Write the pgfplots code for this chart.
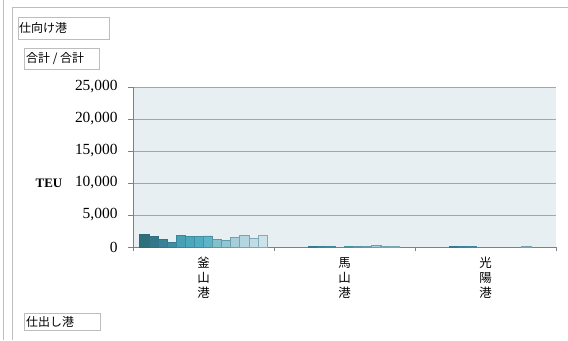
\documentclass[border=0pt]{standalone}
\usepackage{pgfplots}
\pgfplotsset{compat=1.18}
\usepackage{fontspec}
\setmainfont{Liberation Serif}
\newfontfamily\jp{Noto Sans CJK JP}

\definecolor{c0}{HTML}{2A6676}
\definecolor{s1}{HTML}{2E6F7E}
\definecolor{s2}{HTML}{33788A}
\definecolor{s3}{HTML}{3A8296}
\definecolor{s4}{HTML}{3F8DA0}
\definecolor{s5}{HTML}{47A0B5}
\definecolor{s6}{HTML}{4BA7BB}
\definecolor{s7}{HTML}{50AEC3}
\definecolor{s8}{HTML}{5FB5C8}
\definecolor{s9}{HTML}{84C0CE}
\definecolor{s10}{HTML}{92C6D3}
\definecolor{s11}{HTML}{A6CFDB}
\definecolor{s12}{HTML}{B4D6E0}
\definecolor{s13}{HTML}{C0DCE5}
\definecolor{s14}{HTML}{CCE3EA}
\definecolor{bgc}{HTML}{E7EFF3}
\definecolor{gridc}{HTML}{A6A6A6}
\definecolor{boxc}{HTML}{BDBDBD}

\pgfplotsset{bb/.style={fill=#1, draw=#1!55!c0, line width=0.8bp}}

\begin{document}
\begin{tikzpicture}[x=1bp,y=1bp]
\path[use as bounding box] (0,0) rectangle (568,340);
\fill[white] (0,0) rectangle (568,340);
% outer frames
\draw[boxc, line width=1bp] (3,0) -- (3,340);
\draw[boxc, line width=1bp] (12,0) -- (12,332) -- (568,332);
% field buttons
\draw[boxc, line width=0.8bp] (18,301) rectangle (109,323);
\node[anchor=west, inner sep=0pt, font=\jp\fontsize{12}{12}\selectfont] at (19,312) {仕向け港};
\draw[boxc, line width=0.8bp] (24,271) rectangle (99,292);
\node[anchor=west, inner sep=0pt, font=\jp\fontsize{12}{12}\selectfont] at (26,281.5) {合計 / 合計};
\draw[boxc, line width=0.8bp] (24,10) rectangle (100,27);
\node[anchor=west, inner sep=0pt, font=\jp\fontsize{12}{12}\selectfont] at (26,18.5) {仕出し港};

\begin{axis}[
  at={(133bp,93bp)}, anchor=south west,
  scale only axis, width=423bp, height=160bp,
  ybar, bar width=0.0645,
  xmin=-0.5, xmax=2.5, ymin=0, ymax=25000,
  axis background/.style={fill=bgc},
  axis x line=bottom, axis y line=left,
  axis line style={gray, line width=0.8bp, -},
  xtick={0,1,2},
  xticklabels={{釜\\山\\港},{馬\\山\\港},{光\\陽\\港}},
  x tick label style={font=\jp\fontsize{12.5}{15}\selectfont, align=center, anchor=north, yshift=-2bp},
  major x tick style={draw=none},
  minor xtick={-0.5,0.5,1.5,2.5},
  minor x tick style={gray, line width=0.8bp},
  minor tick length=4bp,
  ytick={0,5000,...,25000},
  scaled y ticks=false,
  y tick label style={font=\fontsize{15.5}{15.5}\selectfont, xshift=-7bp, /pgf/number format/1000 sep={,}, /pgf/number format/assume math mode=true},
  major y tick style={gray, line width=0.8bp},
  major tick length=5bp,
  tick align=outside,
  ymajorgrids, grid style={gridc, line width=1bp},
  clip=false,
]
\addplot[bb=s1,  bar shift=-0.419] coordinates {(0,1900)};
\addplot[bb=s2,  bar shift=-0.355] coordinates {(0,1600)};
\addplot[bb=s3,  bar shift=-0.290] coordinates {(0,1250)};
\addplot[bb=s4,  bar shift=-0.226] coordinates {(0,680) (1,50) (2,50)};
\addplot[bb=s5,  bar shift=-0.161] coordinates {(0,1870) (1,50) (2,50)};
\addplot[bb=s6,  bar shift=-0.097] coordinates {(0,1700) (1,50) (2,50)};
\addplot[bb=s7,  bar shift=-0.032] coordinates {(0,1600)};
\addplot[bb=s8,  bar shift=0.032]  coordinates {(0,1720) (1,50)};
\addplot[bb=s9,  bar shift=0.097]  coordinates {(0,1200) (1,50)};
\addplot[bb=s10, bar shift=0.161]  coordinates {(0,1050) (1,50)};
\addplot[bb=s11, bar shift=0.226]  coordinates {(0,1560) (1,180)};
\addplot[bb=s12, bar shift=0.290]  coordinates {(0,1800) (1,50) (2,150)};
\addplot[bb=s13, bar shift=0.355]  coordinates {(0,1400) (1,50)};
\addplot[bb=s14, bar shift=0.419]  coordinates {(0,1800)};
\end{axis}
\node[font=\bfseries\fontsize{13}{13}\selectfont] at (49,157) {TEU};
\end{tikzpicture}
\end{document}
